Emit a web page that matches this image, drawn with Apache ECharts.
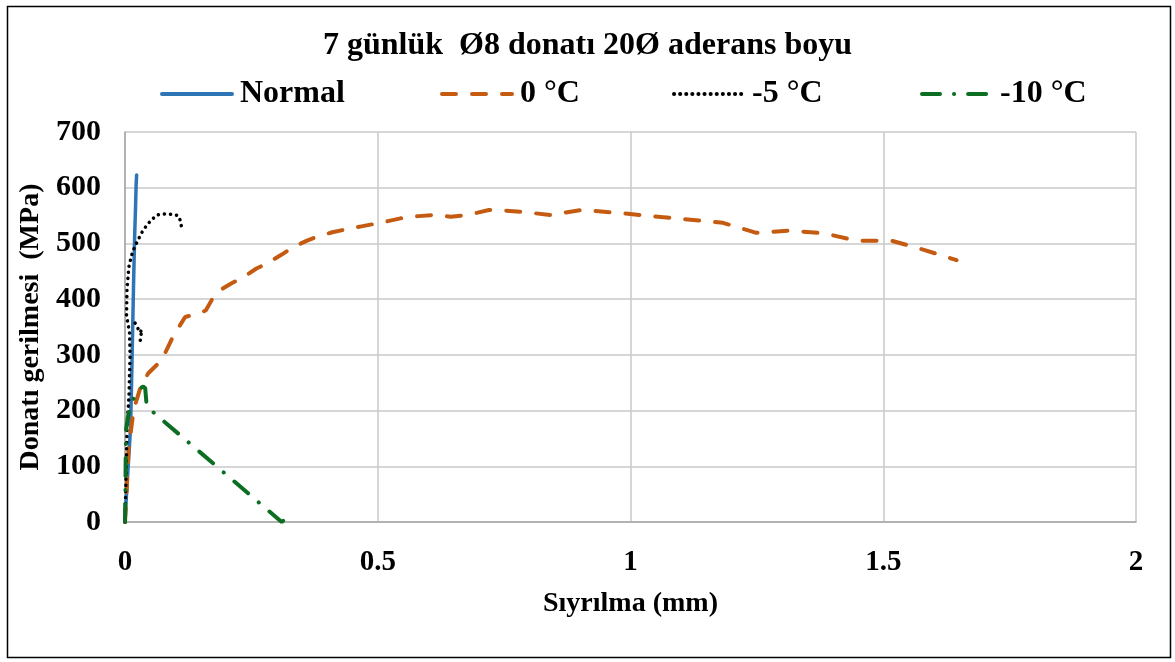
<!DOCTYPE html>
<html>
<head>
<meta charset="utf-8">
<script src="https://cdn.jsdelivr.net/npm/echarts@6/dist/echarts.min.js"></script>
<style>
html, body { margin: 0; padding: 0; background: #fff; }
#chart { width: 1175px; height: 662px; }
</style>
</head>
<body>
<div id="chart"></div>
<script>
// etiketler
var titleText = '7 günlük  Ø8 donatı 20Ø aderans boyu';
var seriesNames = ['Normal', '0 °C', '-5 °C', '-10 °C'];

// okunan değerler [sıyrılma (mm), gerilme (MPa)]
var normalData = [
	[0, 0], [0.003, 50], [0.007, 110], [0.011, 170], [0.013, 250], [0.015, 340],
	[0.017, 430], [0.019, 510], [0.021, 570], [0.022, 605], [0.023, 623]
];
var zeroData = [
	[0, 0], [0.003, 50], [0.007, 130], [0.017, 201], [0.03, 240], [0.046, 267],
	[0.073, 291], [0.095, 333], [0.119, 368], [0.149, 375], [0.16, 380],
	[0.175, 404], [0.188, 416], [0.21, 428], [0.235, 440], [0.26, 455],
	[0.281, 464], [0.31, 480], [0.334, 494], [0.36, 505], [0.38, 512],
	[0.41, 520], [0.446, 527], [0.47, 531], [0.499, 536], [0.52, 540],
	[0.545, 545], [0.58, 549], [0.611, 551], [0.644, 548], [0.677, 551],
	[0.72, 560], [0.75, 559], [0.783, 557], [0.842, 551], [0.902, 560],
	[0.975, 555], [1.04, 549], [1.113, 543], [1.183, 537], [1.249, 519],
	[1.315, 523], [1.384, 518], [1.447, 505], [1.516, 505], [1.582, 488],
	[1.645, 470]
];
var minus5Data = [
	[0, 0], [0.002, 80], [0.004, 170], [0.008, 230], [0.01, 300], [0.009, 340],
	[0.003, 370], [0.004, 420], [0.008, 460], [0.015, 485], [0.025, 505],
	[0.036, 524], [0.05, 540], [0.063, 551], [0.08, 553], [0.095, 552],
	[0.105, 550], [0.11, 540], [0.112, 528],
	['-', '-'],
	[0.02, 357], [0.03, 340], [0.033, 345], [0.03, 325]
];
var minus10Data = [
	[0, 0], [0.001, 80], [0.002, 165], [0.006, 190], [0.01, 207], [0.016, 220],
	[0.023, 231], [0.03, 240], [0.036, 243], [0.04, 240], [0.043, 207],
	[0.31, 0], [0.318, 6]
];

var xTicks = { min: 0, max: 2, interval: 0.5 };
var yTicks = { min: 0, max: 700, interval: 100 };

var serifFont = '"Liberation Serif", "DejaVu Serif", serif';
var colors = ['#2e75b6', '#c55a11', '#000000', '#0b6e22'];
var legendLeft = [160, 440, 672, 920];

var chart = echarts.init(document.getElementById('chart'), null, { renderer: 'canvas' });

// her seri için ayrı legend, konumları resimdeki gibi
var legends = [];
for (var i = 0; i < seriesNames.length; i++) {
	legends.push({
		left: legendLeft[i],
		top: 78,
		padding: 0,
		itemWidth: 70,
		itemHeight: 20,
		itemGap: 0,
		data: [seriesNames[i]],
		itemStyle: { opacity: 0, borderWidth: 0 },
		lineStyle: { width: 4 },
		textStyle: { fontFamily: serifFont, fontWeight: 'bold', fontSize: 32, color: '#000', padding: [0, 0, 0, 3] }
	});
}

var option = {
	backgroundColor: '#ffffff',
	animation: false,
	title: {
		text: titleText,
		left: 'center',
		top: 25,
		textStyle: { fontFamily: serifFont, fontWeight: 'bold', fontSize: 32, color: '#000' }
	},
	legend: legends,
	grid: { left: 125, right: 39, top: 132, bottom: 140 },
	xAxis: {
		type: 'value',
		min: xTicks.min,
		max: xTicks.max,
		interval: xTicks.interval,
		name: 'Sıyrılma (mm)',
		nameLocation: 'middle',
		nameGap: 68,
		nameTextStyle: { fontFamily: serifFont, fontWeight: 'bold', fontSize: 28, color: '#000' },
		axisLine: { lineStyle: { color: '#a6a6a6', width: 1.5 } },
		axisTick: { show: false },
		axisLabel: { margin: 26, fontFamily: serifFont, fontWeight: 'bold', fontSize: 29, color: '#000' },
		splitLine: { show: true, lineStyle: { color: '#c8c8c8', width: 1.5 } }
	},
	yAxis: {
		type: 'value',
		min: yTicks.min,
		max: yTicks.max,
		interval: yTicks.interval,
		name: 'Donatı gerilmesi  (MPa)',
		nameLocation: 'middle',
		nameGap: 78,
		nameTextStyle: { fontFamily: serifFont, fontWeight: 'bold', fontSize: 28, color: '#000' },
		axisLine: { show: true, lineStyle: { color: '#a6a6a6', width: 1.5 } },
		axisTick: { show: false },
		axisLabel: { margin: 24, fontFamily: serifFont, fontWeight: 'bold', fontSize: 30, color: '#000' },
		splitLine: { show: true, lineStyle: { color: '#c8c8c8', width: 1.5 } }
	},
	graphic: [{
		type: 'rect',
		left: 5,
		top: 4,
		shape: { width: 1163, height: 651 },
		style: { fill: 'none', stroke: '#000', lineWidth: 1.5 },
		silent: true
	}],
	series: [{
		name: seriesNames[0],
		type: 'line',
		data: normalData,
		symbol: 'none',
		color: colors[0],
		lineStyle: { width: 3.5, color: colors[0], cap: 'round' }
	}, {
		name: seriesNames[1],
		type: 'line',
		data: zeroData,
		symbol: 'none',
		color: colors[1],
		lineStyle: { width: 4, color: colors[1], type: [14, 16], cap: 'round' }
	}, {
		name: seriesNames[2],
		type: 'line',
		data: minus5Data,
		symbol: 'none',
		color: colors[2],
		connectNulls: false,
		lineStyle: { width: 3.5, color: colors[2], type: [0.1, 6], cap: 'round' }
	}, {
		name: seriesNames[3],
		type: 'line',
		data: minus10Data,
		symbol: 'none',
		color: colors[3],
		lineStyle: { width: 4, color: colors[3], type: [18, 14, 0.1, 14], cap: 'round' }
	}]
};

chart.setOption(option);
</script>
</body>
</html>
